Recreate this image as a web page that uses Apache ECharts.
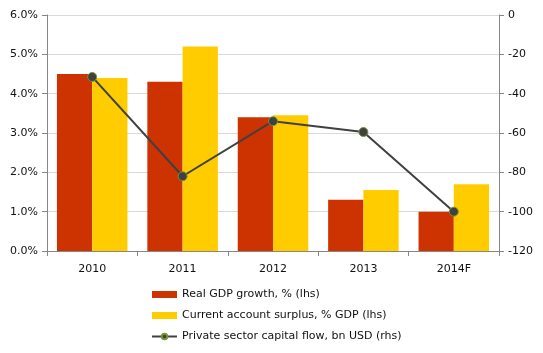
<!DOCTYPE html>
<html>
<head>
<meta charset="utf-8">
<script src="https://cdn.jsdelivr.net/npm/echarts@6/dist/echarts.min.js"></script>
<style>
  html, body { margin: 0; padding: 0; background: #fff; }
  #main { width: 543px; height: 353px; }
</style>
</head>
<body>
<div id="main"></div>
<script>
const years = ['2010', '2011', '2012', '2013', '2014F']
const gdpGrowth = [4.5, 4.3, 3.4, 1.3, 1.0]
const currentAccount = [4.4, 5.2, 3.45, 1.55, 1.7]
const capitalFlow = [-31.5, -82, -54, -59.5, -100]

const font = 'DejaVu Sans'
const txt = '#111'

var myChart = echarts.init(document.getElementById('main'))

var option = {
    animation: false,
    textStyle: { fontFamily: font },
    grid: { left: 47, right: 44, top: 15, bottom: 102 },
    legend: {
        orient: 'vertical',
        left: 151,
        top: 289,
        padding: 0,
        height: 64,
        itemGap: 10,
        itemWidth: 25,
        itemHeight: 7,
        textStyle: { fontFamily: font, fontSize: 11, color: txt },
        data: [
            { name: 'Real GDP growth, % (lhs)', icon: 'rect' },
            { name: 'Current account surplus, % GDP (lhs)', icon: 'rect' },
            { name: 'Private sector capital flow, bn USD (rhs)' }
        ]
    },
    xAxis: {
        type: 'category',
        data: years,
        axisLine: { lineStyle: { color: '#868686' } },
        axisTick: { show: true, alignWithLabel: false, length: 5, lineStyle: { color: '#868686' } },
        axisLabel: { color: txt, fontSize: 11, margin: 13 }
    },
    yAxis: [
        {
            type: 'value',
            min: 0, max: 6, interval: 1,
            axisLine: { show: true, lineStyle: { color: '#868686' } },
            axisTick: { show: true, length: 5, lineStyle: { color: '#868686' } },
            splitLine: { lineStyle: { color: '#d9d9d9' } },
            axisLabel: { color: txt, fontSize: 11, margin: 9, formatter: v => v.toFixed(1) + '%' }
        },
        {
            type: 'value',
            min: -120, max: 0, interval: 20,
            position: 'right',
            axisLine: { show: true, lineStyle: { color: '#868686' } },
            axisTick: { show: true, length: 5, lineStyle: { color: '#868686' } },
            splitLine: { show: false },
            axisLabel: { color: txt, fontSize: 11, margin: 9 }
        }
    ],
    series: [
        {
            name: 'Real GDP growth, % (lhs)',
            type: 'bar',
            data: gdpGrowth,
            barGap: '0%',
            barCategoryGap: '22%',
            itemStyle: { color: '#cc3300' }
        },
        {
            name: 'Current account surplus, % GDP (lhs)',
            type: 'bar',
            data: currentAccount,
            itemStyle: { color: '#ffcc00' }
        },
        {
            name: 'Private sector capital flow, bn USD (rhs)',
            type: 'line',
            yAxisIndex: 1,
            data: capitalFlow,
            symbol: 'circle',
            symbolSize: 9,
            lineStyle: { color: '#404040', width: 2 },
            itemStyle: { color: '#404040', borderColor: '#77933c', borderWidth: 1 }
        }
    ]
}

myChart.setOption(option)
</script>
</body>
</html>
